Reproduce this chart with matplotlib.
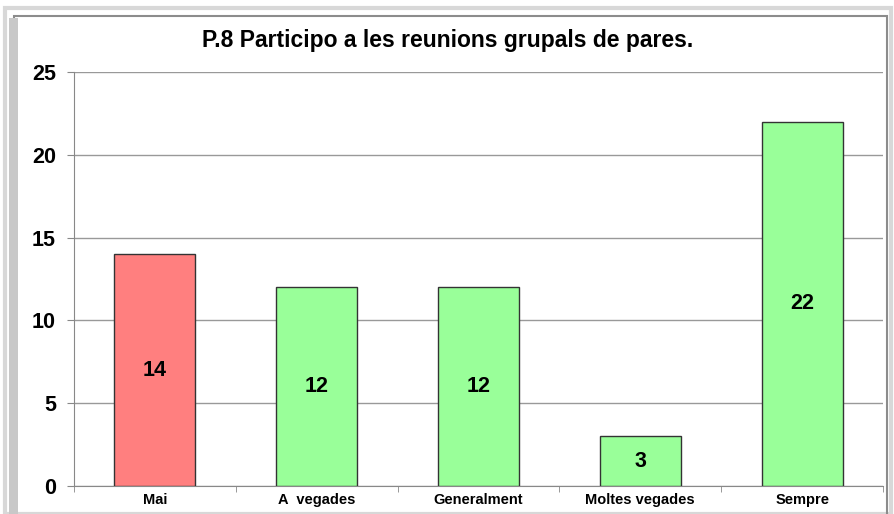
import matplotlib.pyplot as plt
from matplotlib.patches import Rectangle

plt.rcParams['font.family'] = ['Liberation Sans', 'DejaVu Sans']

categories = ['Mai', 'A  vegades', 'Generalment', 'Moltes vegades', 'Sempre']
counts = [14, 12, 12, 3, 22]
bar_colors = ['#FF7F7F', '#99FF99', '#99FF99', '#99FF99', '#99FF99']
title = 'P.8 Participo a les reunions grupals de pares.'

fig = plt.figure(figsize=(8.95, 5.14), dpi=100)

# chart frame (outer light border + darker inner line)
fig.patches.append(Rectangle((0.006, 0.0), 0.99, 0.985, transform=fig.transFigure,
                             fill=False, edgecolor='#d8d8d8', lw=3))
fig.patches.append(Rectangle((0.016, -0.01), 0.975, 0.978, transform=fig.transFigure,
                             fill=False, edgecolor='#8c8c8c', lw=1.5))
fig.patches.append(Rectangle((0.010, -0.01), 0.010, 0.975, transform=fig.transFigure,
                             facecolor='#c8c8c8', edgecolor='none'))

ax = fig.add_axes([0.0827, 0.0545, 0.9039, 0.8055])
x = range(len(categories))
bars = ax.bar(x, counts, width=0.5, color=bar_colors, edgecolor='#333333', lw=1, zorder=3)

for b, v in zip(bars, counts):
    ax.text(b.get_x() + b.get_width() / 2, v / 2, str(v), ha='center', va='center',
            fontsize=15.5, fontweight='bold', zorder=4)

ax.set_xlim(-0.5, len(categories) - 0.5)
ax.set_ylim(0, 25)
ax.set_yticks(range(0, 26, 5))
ax.yaxis.grid(True, color='#999999', lw=1, zorder=0)
ax.tick_params(axis='y', labelsize=15.5, length=5, color='#888888', pad=8)
for lab in ax.get_yticklabels():
    lab.set_fontweight('bold')

ax.set_xticks(list(x))
ax.set_xticklabels(categories, fontsize=10.5, fontweight='bold')
ax.set_xticks([i - 0.5 for i in range(len(categories) + 1)], minor=True)
ax.tick_params(axis='x', which='major', length=0, pad=5)
ax.tick_params(axis='x', which='minor', length=4, color='#888888')

for s in ['top', 'right']:
    ax.spines[s].set_visible(False)
ax.spines['left'].set_color('#888888')
ax.spines['bottom'].set_color('#888888')

fig.text(0.5, 0.921, title, ha='center', va='center', fontsize=16.5, fontweight='bold')

fig.savefig('out.png', dpi=100, facecolor='white')
